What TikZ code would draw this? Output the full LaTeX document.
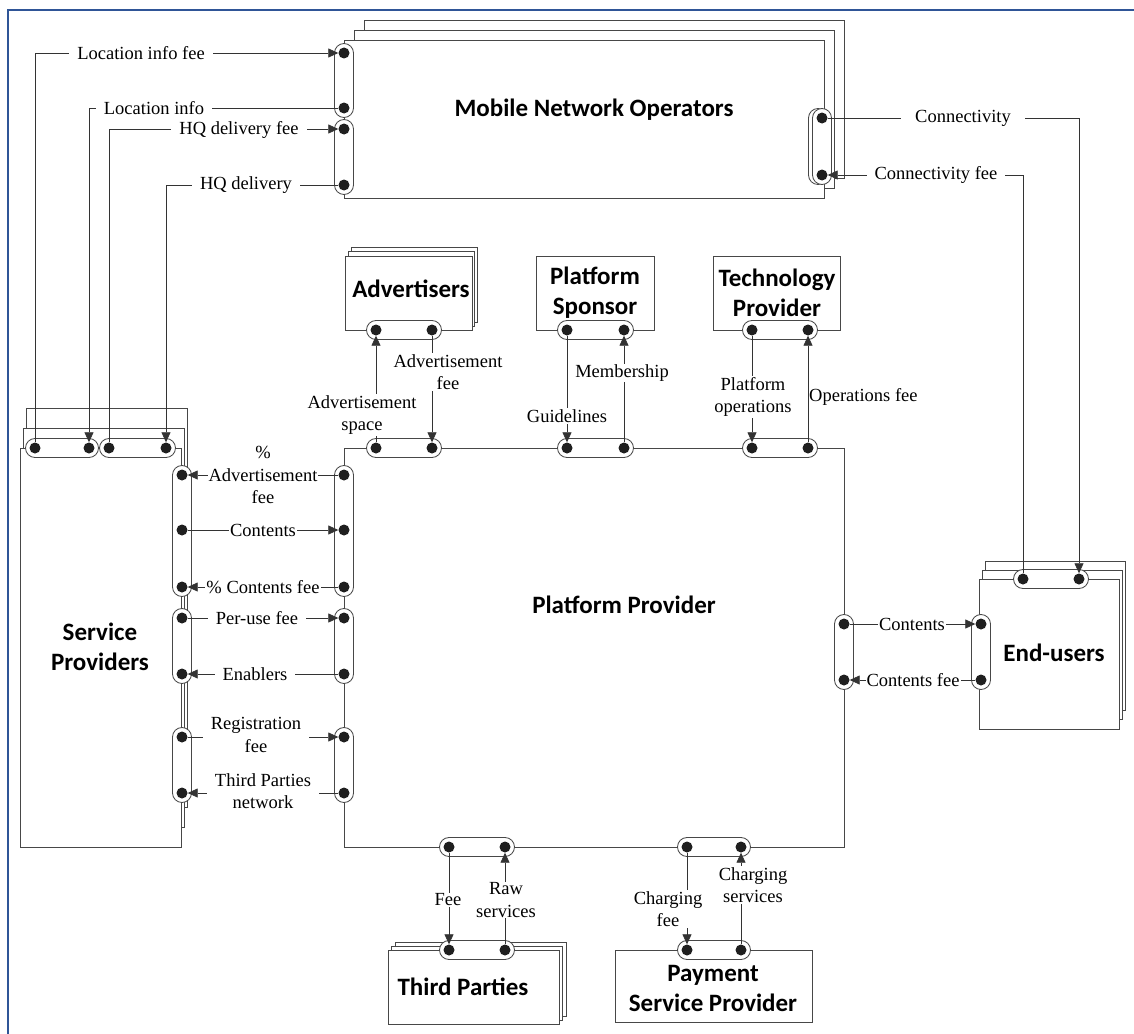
\documentclass[tikz,border=0pt]{standalone}
\usepackage{fontspec}
\setmainfont{Liberation Serif}
\newfontfamily\hd{Carlito}
\usetikzlibrary{arrows.meta,fit,calc}
\definecolor{framec}{RGB}{47,85,151}
\begin{document}
\begin{tikzpicture}[x=1pt,y=-1pt,
  box/.style={draw=black!72,line width=1pt,fill=white},
  pill/.style={draw=black!72,line width=0.85pt,fill=white,rounded corners=9.5pt,inner sep=9.5pt},
  dot/.style={circle,fill=black!88,inner sep=0pt,minimum size=11pt},
  con/.style={draw=black!80,line width=0.75pt},
  arr/.style={con,-{Triangle[length=10pt,width=9pt]}},
  lbl/.style={fill=white,inner xsep=8pt,inner ysep=1pt,font=\fontsize{18.5}{22.5}\selectfont,align=center},
  lbt/.style={lbl,inner xsep=1pt},
  lbn/.style={inner sep=0pt,font=\fontsize{18.5}{22.5}\selectfont,align=center},
  ttl/.style={font=\hd\bfseries\fontsize{25}{30}\selectfont,align=center}]
\useasboundingbox (0,0) rectangle (1134,1033);
% frame
\draw[framec,line width=2pt] (8,1040) -- (8,10) -- (1140,10);

% ---------- boxes ----------
% Mobile Network Operators
\draw[box] (364,21) rectangle (844,178);
\draw[box] (354,31) rectangle (834,188);
\draw[box] (344,41) rectangle (824,198);
% Advertisers
\draw[box] (351,247) rectangle (477,322);
\draw[box] (348,251) rectangle (474,326);
\draw[box] (345,256) rectangle (472,330);
% Platform Sponsor, Technology Provider
\draw[box] (536,256) rectangle (654,330);
\draw[box] (713,256) rectangle (840,330);
% Service Providers
\draw[box] (26,408) rectangle (187,807);
\draw[box] (23,428) rectangle (184,827);
\draw[box] (20,448) rectangle (181,847);
% Platform Provider
\draw[box] (344,448) rectangle (844,847);
% End-users
\draw[box] (985,561) rectangle (1125,710);
\draw[box] (982,570) rectangle (1122,719);
\draw[box] (979,579) rectangle (1119,729);
% Third Parties
\draw[box] (395,942) rectangle (566,1016);
\draw[box] (391,946) rectangle (562,1020);
\draw[box] (388,950) rectangle (559,1024);
% Payment Service Provider
\draw[box] (615,950) rectangle (812,1022);

% ---------- titles ----------
\node[ttl] (tmno) at (594,110) {Mobile Network Operators};
\node[ttl] (tadv) at (411,289) {Advertisers};
\node[ttl] (tsps) at (595,293) {Platform\\Sponsor};
\node[ttl] (ttec) at (777,293) {Technology\\Provider};
\node[ttl] (tsp) at (100,647) {Service\\Providers};
\node[ttl] (tpp) at (624,605) {Platform Provider};
\node[ttl] (teu) at (1054,653) {End-users};
\node[ttl] (ttp) at (463,987) {Third Parties};
\node[ttl] (tps) at (713,988) {Payment\\Service Provider};

% ---------- port coordinates ----------
\coordinate (mnol1) at (344,53);  \coordinate (mnol2) at (344,108);
\coordinate (mnol3) at (344,129); \coordinate (mnol4) at (344,185);
\coordinate (mnor1) at (822,118); \coordinate (mnor2) at (822,175);
\coordinate (mnob1) at (818,118); \coordinate (mnob2) at (818,175);
\coordinate (spt1) at (35,448);  \coordinate (spt2) at (89,448);
\coordinate (spt3) at (109,448); \coordinate (spt4) at (166,448);
\foreach \i/\y in {1/475,2/530,3/587,4/618,5/674,6/737,7/793}{
  \coordinate (spr\i) at (182,\y);
  \coordinate (ppl\i) at (344,\y);
}
\foreach \i/\x in {1/376,2/432,3/567,4/624,5/752,6/808}{
  \coordinate (ppt\i) at (\x,448);
}
\coordinate (adv1) at (376,330); \coordinate (adv2) at (432,330);
\coordinate (sps1) at (567,330); \coordinate (sps2) at (624,330);
\coordinate (tec1) at (752,330); \coordinate (tec2) at (808,330);
\coordinate (ppr1) at (844,624); \coordinate (ppr2) at (844,680);
\coordinate (eul1) at (981,624); \coordinate (eul2) at (981,680);
\coordinate (eut1) at (1023,579); \coordinate (eut2) at (1079,579);
\coordinate (ppb1) at (449,847); \coordinate (ppb2) at (505,847);
\coordinate (ppb3) at (687,847); \coordinate (ppb4) at (741,847);
\coordinate (tp1) at (449,950); \coordinate (tp2) at (505,950);
\coordinate (ps1) at (687,950); \coordinate (ps2) at (741,950);

% ---------- pills ----------
\node[pill,fit=(mnol1)(mnol2)] (pm1) {};
\node[pill,fit=(mnol3)(mnol4)] (pm2) {};
\node[pill,fit=(mnob1)(mnob2)] (pm3b) {};
\node[pill,fit=(mnor1)(mnor2)] (pm3) {};
\node[pill,fit=(spt1)(spt2)] (ps1p) {};
\node[pill,fit=(spt3)(spt4)] (ps2p) {};
\node[pill,fit=(spr1)(spr3)] (ps3p) {};
\node[pill,fit=(spr4)(spr5)] (ps4p) {};
\node[pill,fit=(spr6)(spr7)] (ps5p) {};
\node[pill,fit=(ppl1)(ppl3)] (pp1p) {};
\node[pill,fit=(ppl4)(ppl5)] (pp2p) {};
\node[pill,fit=(ppl6)(ppl7)] (pp3p) {};
\node[pill,fit=(ppt1)(ppt2)] (pp4p) {};
\node[pill,fit=(ppt3)(ppt4)] (pp5p) {};
\node[pill,fit=(ppt5)(ppt6)] (pp6p) {};
\node[pill,fit=(adv1)(adv2)] (pap) {};
\node[pill,fit=(sps1)(sps2)] (psp) {};
\node[pill,fit=(tec1)(tec2)] (ptp) {};
\node[pill,fit=(ppr1)(ppr2)] (pp7p) {};
\node[pill,fit=(eul1)(eul2)] (pe1p) {};
\node[pill,fit=(eut1)(eut2)] (pe2p) {};
\node[pill,fit=(ppb1)(ppb2)] (pp8p) {};
\node[pill,fit=(ppb3)(ppb4)] (pp9p) {};
\node[pill,fit=(tp1)(tp2)] (ptpp) {};
\node[pill,fit=(ps1)(ps2)] (pps) {};

% ---------- dots ----------
\foreach \n in {mnol1,mnol2,mnol3,mnol4,mnor1,mnor2,spt1,spt2,spt3,spt4,
  spr1,spr2,spr3,spr4,spr5,spr6,spr7,ppl1,ppl2,ppl3,ppl4,ppl5,ppl6,ppl7,
  ppt1,ppt2,ppt3,ppt4,ppt5,ppt6,adv1,adv2,sps1,sps2,tec1,tec2,
  ppr1,ppr2,eul1,eul2,eut1,eut2,ppb1,ppb2,ppb3,ppb4,tp1,tp2,ps1,ps2}{
  \node[dot] (d\n) at (\n) {};
}

% ---------- connectors ----------
% MNO - Service Providers
\draw[arr] (dspt1) |- (dmnol1);
\draw[arr] (dmnol2) -| (dspt2);
\draw[arr] (dspt3) |- (dmnol3);
\draw[arr] (dmnol4) -| (dspt4);
% MNO - End-users
\draw[arr] (dmnor1) -| (deut2);
\draw[arr] (deut1) |- (dmnor2);
% top
\draw[arr] (dppt1) -- (dadv1);
\draw[arr] (dadv2) -- (dppt2);
\draw[arr] (dsps1) -- (dppt3);
\draw[arr] (dppt4) -- (dsps2);
\draw[arr] (dtec1) -- (dppt5);
\draw[arr] (dppt6) -- (dtec2);
% left
\draw[arr] (dppl1) -- (dspr1);
\draw[arr] (dspr2) -- (dppl2);
\draw[arr] (dppl3) -- (dspr3);
\draw[arr] (dspr4) -- (dppl4);
\draw[arr] (dppl5) -- (dspr5);
\draw[arr] (dspr6) -- (dppl6);
\draw[arr] (dppl7) -- (dspr7);
% right
\draw[arr] (dppr1) -- (deul1);
\draw[arr] (deul2) -- (dppr2);
% bottom
\draw[arr] (dppb1) -- (dtp1);
\draw[arr] (dtp2) -- (dppb2);
\draw[arr] (dppb3) -- (dps1);
\draw[arr] (dps2) -- (dppb4);

% ---------- labels ----------
\node[lbl] (l1) at (141,53) {Location info fee};
\node[lbl] (l2) at (154,108) {Location info};
\node[lbl] (l3) at (239,130) {HQ delivery fee};
\node[lbl] (l4) at (246,185) {HQ delivery};
\node[lbl,inner xsep=14pt] (l5) at (963,118) {Connectivity};
\node[lbl] (l6) at (936,175) {Connectivity fee};
\node[lbl] (l7) at (362,415) {Advertisement\\space};
\node[lbl,inner xsep=1pt] (l8) at (448,372) {Advertisement\\fee};
\node[lbl,inner xsep=1pt] (l9) at (567,416) {Guidelines};
\node[lbl,inner xsep=1pt] (l10) at (622,373) {Membership};
\node[lbl,inner xsep=1pt] (l11) at (753,397) {Platform\\operations};
\node[lbn,anchor=west] (l12) at (809,397) {Operations fee};
\node[lbt] (l13) at (263,475) {\%\\Advertisement\\fee};
\node[lbt] (l14) at (263,530) {Contents};
\node[lbt] (l15) at (263,587) {\% Contents fee};
\node[lbl] (l16) at (257,618) {Per-use fee};
\node[lbl] (l17) at (255,674) {Enablers};
\node[lbl] (l18) at (256,735) {Registration\\fee};
\node[lbl] (l19) at (263,791) {Third Parties\\network};
\node[lbt] (l20) at (912,624) {Contents};
\node[lbt] (l21) at (913,680) {Contents fee};
\node[lbl,inner xsep=1pt] (l22) at (448,900) {Fee};
\node[lbl,inner xsep=1pt] (l23) at (506,900) {Raw\\services};
\node[lbl,inner xsep=1pt] (l24) at (668,909) {Charging\\fee};
\node[lbl,inner xsep=1pt] (l25) at (753,885) {Charging\\services};
\end{tikzpicture}
\end{document}
